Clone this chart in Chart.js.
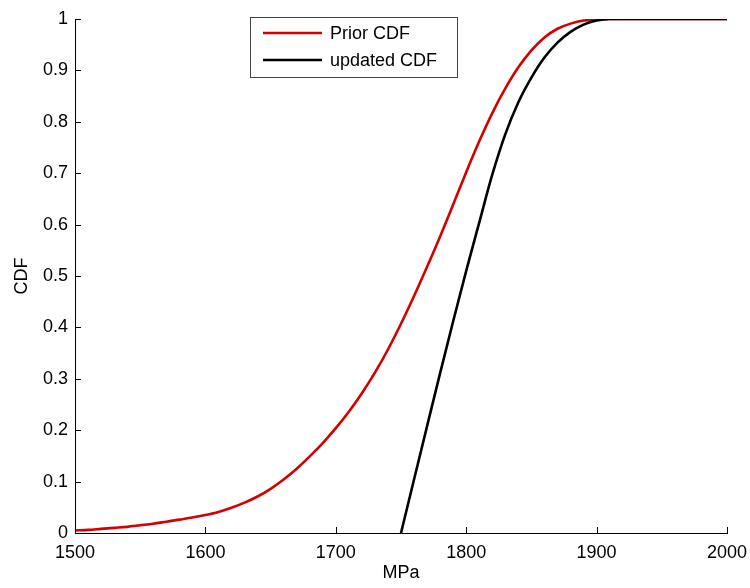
<!DOCTYPE html>
<html>
<head>
<meta charset="utf-8">
<script src="https://cdn.jsdelivr.net/npm/chart.js@4"></script>
<style>
  html, body { margin: 0; padding: 0; background: #fff; }
  #wrap { width: 750px; height: 588px; position: relative; }
</style>
</head>
<body>
<div id="wrap"><canvas id="cdfchart"></canvas></div>
<script>
// stress values (MPa) and CDF
const priorX = [1500,1510,1520,1530,1540,1550,1560,1570,1580,1590,
                1600,1610,1620,1630,1640,1650,1660,1670,1680,1690,
                1700,1710,1720,1730,1740,1750,1760,1770,1780,1790,
                1800,1810,1820,1830,1840,1850,1860,1870,1880,1890,
                1900,1910,1920,1930,1940,1950,1960,1970,1980,1990,2000]
const priorCdf = [0.005,0.006,0.008,0.010,0.012,0.015,0.018,0.022,0.026,0.030,
                  0.035,0.041,0.049,0.059,0.071,0.086,0.104,0.125,0.149,0.175,
                  0.204,0.236,0.272,0.312,0.357,0.407,0.461,0.518,0.577,0.639,
                  0.702,0.762,0.817,0.865,0.906,0.939,0.964,0.981,0.991,0.997,
                  0.999,1,1,1,1,1,1,1,1,1,1]

const updatedX = [1750,1760,1770,1780,1790,1800,1810,1820,1830,1840,
                  1850,1860,1870,1880,1890,1900,1910,1920,1930,1940,
                  1950,1960,1970,1980,1990,2000]
const updatedCdf = [0,0.104,0.208,0.311,0.412,0.510,0.604,0.697,0.776,0.838,
                    0.886,0.925,0.954,0.975,0.989,0.997,1,1,1,1,
                    1,1,1,1,1,1]

const xTicks = [1500,1600,1700,1800,1900,2000]
const yTicks = [0,0.1,0.2,0.3,0.4,0.5,0.6,0.7,0.8,0.9,1]

const FONT = 'Arial, "Liberation Sans", sans-serif'

function toPoints(xs, ys) {
    return xs.map((x, i) => ({ x: x, y: ys[i] }))
}

// matlab style: ticks pointing into the axes, legend box at the top
const matlabLook = {
    id: 'matlabLook',
    afterDraw(chart) {
        const ctx = chart.ctx
        const xs = chart.scales.x, ys = chart.scales.y
        const area = chart.chartArea
        ctx.save()
        ctx.strokeStyle = '#000'
        ctx.lineWidth = 1
        ctx.beginPath()
        xTicks.forEach(v => {
            let px = Math.round(xs.getPixelForValue(v)) + 0.5
            ctx.moveTo(px, area.bottom)
            ctx.lineTo(px, area.bottom - 6)
        })
        yTicks.forEach(v => {
            let py = Math.round(ys.getPixelForValue(v)) + 0.5
            ctx.moveTo(area.left, py)
            ctx.lineTo(area.left + 6, py)
        })
        ctx.stroke()

        // legend
        let bx = 250.5, by = 17.5, bw = 207, bh = 60
        ctx.fillStyle = '#fff'
        ctx.fillRect(bx, by, bw, bh)
        ctx.strokeStyle = '#444'
        ctx.strokeRect(bx, by, bw, bh)
        ctx.font = '18px ' + FONT
        ctx.textBaseline = 'middle'
        ctx.textAlign = 'left'
        chart.data.datasets.forEach((ds, i) => {
            let ly = 33 + i * 27
            ctx.strokeStyle = ds.borderColor
            ctx.lineWidth = 2.5
            ctx.beginPath()
            ctx.moveTo(263, ly)
            ctx.lineTo(322, ly)
            ctx.stroke()
            ctx.fillStyle = '#000'
            ctx.fillText(ds.label, 330, ly + 1)
        })
        ctx.restore()
    }
}

const cdfconfig = {
    type: 'line',
    data: {
        datasets: [
            {
                label: 'Prior CDF',
                data: toPoints(priorX, priorCdf),
                borderColor: 'rgb(212, 0, 0)',
                borderWidth: 2.6,
                pointRadius: 0,
                cubicInterpolationMode: 'monotone',
                order: 1
            },
            {
                label: 'updated CDF',
                data: toPoints(updatedX, updatedCdf),
                borderColor: '#000',
                borderWidth: 2.6,
                pointRadius: 0,
                cubicInterpolationMode: 'monotone',
                order: 0
            }
        ]
    },
    options: {
        responsive: true,
        maintainAspectRatio: false,
        animation: false,
        layout: { padding: { left: 0, right: 23, top: 19, bottom: 0 } },
        plugins: {
            legend: { display: false },
            tooltip: { enabled: false }
        },
        scales: {
            x: {
                type: 'linear',
                min: 1500,
                max: 2000,
                afterBuildTicks: scale => { scale.ticks = xTicks.map(v => ({ value: v })) },
                afterFit: scale => {
                    scale.height = 55
                    scale.paddingLeft = 0
                    scale.paddingRight = 0
                },
                grid: { display: true, drawOnChartArea: false, drawTicks: false },
                border: { display: true, color: '#000', width: 1 },
                ticks: { color: '#000', padding: 9, maxRotation: 0, font: { family: FONT, size: 18 },
                         callback: v => String(v) },
                title: { display: true, text: 'MPa', color: '#000', padding: { top: 0, bottom: 4 }, font: { family: FONT, size: 18 } }
            },
            y: {
                min: 0,
                max: 1,
                afterBuildTicks: scale => { scale.ticks = yTicks.map(v => ({ value: v })) },
                afterFit: scale => {
                    scale.width = 75
                    scale.paddingTop = 0
                    scale.paddingBottom = 0
                },
                grid: { display: true, drawOnChartArea: false, drawTicks: false },
                border: { display: true, color: '#000', width: 1 },
                ticks: { color: '#000', padding: 7, font: { family: FONT, size: 18 },
                         callback: v => String(+Number(v).toFixed(1)) },
                title: { display: true, text: 'CDF', color: '#000', padding: { top: 11, bottom: 0 }, font: { family: FONT, size: 18 } }
            }
        }
    },
    plugins: [matlabLook]
}

new Chart(document.getElementById('cdfchart'), cdfconfig)
</script>
</body>
</html>
